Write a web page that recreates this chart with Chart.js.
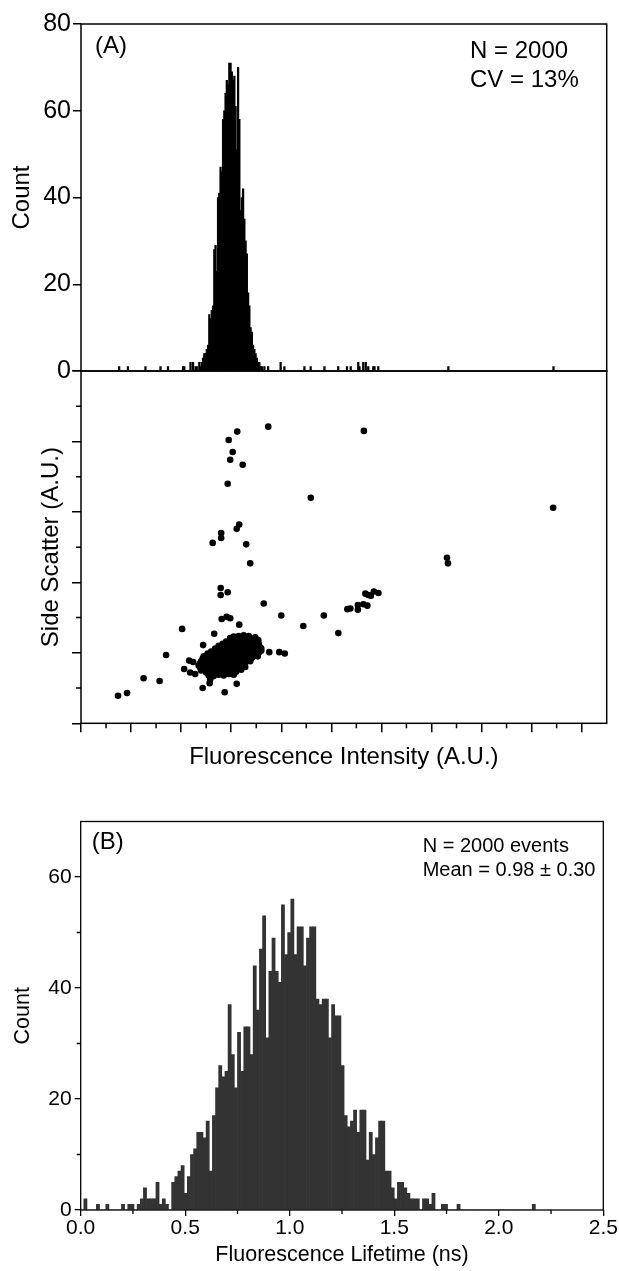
<!DOCTYPE html>
<html><head><meta charset="utf-8">
<script src="https://cdn.jsdelivr.net/npm/chart.js@4.4.1/dist/chart.umd.min.js"></script>
<style>
html,body{margin:0;padding:0;background:#fff;}
#wrap{position:relative;width:619px;height:1271px;overflow:hidden;background:#fff;}
canvas{position:absolute;left:0;}
</style></head><body>
<div id="wrap">
<canvas id="cB" style="top:790px;width:619px;height:481px" width="619" height="481"></canvas>
<canvas id="cS" style="top:360px;width:619px;height:420px" width="619" height="420"></canvas>
<canvas id="cH" style="top:0px;width:619px;height:390px" width="619" height="390"></canvas>
</div>
<script>
// ---------- Panel A: fluorescence intensity histogram ----------
const intensityBinCenters = [
  0.7625, 0.9375, 1.2875, 1.5875, 1.7375, 2.0375, 2.0625, 2.1875, 2.2375, 2.2875, 2.3125,
  2.3625, 2.3875, 2.4125, 2.4375, 2.4625, 2.4875, 2.5125, 2.5375, 2.5625, 2.5875,
  2.6125, 2.6375, 2.6625, 2.6875, 2.7125, 2.7375, 2.7625, 2.7875, 2.8125, 2.8375,
  2.8625, 2.8875, 2.9125, 2.9375, 2.9625, 2.9875, 3.0125, 3.0375, 3.0625, 3.0875,
  3.1125, 3.1375, 3.1625, 3.1875, 3.2125, 3.2375, 3.2625, 3.2875, 3.3125, 3.3375,
  3.3625, 3.3875, 3.4125, 3.4375, 3.4625, 3.4875, 3.5125, 3.5375, 3.5625, 3.5875, 3.6125,
  3.6625, 3.7375, 3.9875, 4.0625, 4.4625, 4.5875, 4.8625, 5.1375, 5.3125, 5.3875,
  5.5375, 5.5625, 5.6375, 5.6875, 5.7375, 5.8375, 5.8625, 5.9375, 7.3375, 9.4375
];
const intensityCounts = [
  1, 1, 1, 1, 1, 1, 1, 2, 2, 1, 1,
  2, 1, 2, 3, 4, 4, 5, 6, 13, 12,
  14, 15, 28, 29, 23, 40, 41, 47, 46, 58,
  60, 64, 67, 66, 71, 71, 69, 67, 68, 61,
  51, 70, 58, 37, 40, 42, 35, 30, 27, 18,
  15, 10, 9, 6, 5, 4, 3, 2, 2, 1, 1,
  1, 1, 2, 1, 1, 1, 1, 1, 1, 1,
  2, 1, 2, 2, 1, 1, 1, 1, 1, 1
];
const countTicksA = [0, 20, 40, 60, 80];

// ---------- Panel A: side scatter vs fluorescence intensity ----------
const scatterIntensity = [
  3.74, 3.12, 5.65, 2.95, 3.03, 2.98, 3.23, 2.93, 4.59, 9.43, 3.16, 3.11, 2.80, 2.80, 2.63, 3.30,
  3.38, 7.31, 7.33, 2.79, 2.79, 2.93, 3.65, 5.68, 5.74, 5.85, 5.94, 5.79, 5.53, 5.64, 5.72, 5.32,
  5.38, 5.53, 4.00, 4.85, 2.81, 2.91, 2.98, 4.44, 5.14, 2.02, 2.66, 3.16, 2.44, 1.70, 1.25, 1.57,
  0.74, 0.92, 2.43, 2.58, 2.57, 2.87, 3.11, 2.06, 2.16, 2.24, 2.18, 2.28, 3.76, 3.96, 4.07, 2.98, 3.54,
  2.55, 2.65, 2.75, 2.85, 2.95, 3.05,
  2.50, 2.60, 2.70, 2.80, 2.90, 3.00, 3.10,
  2.40, 2.50, 2.60, 2.70, 2.80, 2.90, 3.00, 3.10, 3.20,
  2.38, 2.48, 2.58, 2.68, 2.78, 2.88, 2.98, 3.08, 3.18, 3.28,
  2.35, 2.45, 2.55, 2.65, 2.75, 2.85, 2.95, 3.05, 3.15, 3.25,
  2.38, 2.48, 2.58, 2.68, 2.78, 2.88, 2.98, 3.08, 3.18, 3.28, 3.38,
  2.40, 2.50, 2.60, 2.70, 2.80, 2.90, 3.00, 3.10, 3.20, 3.30, 3.40,
  2.43, 2.53, 2.63, 2.73, 2.83, 2.93, 3.03, 3.13, 3.23, 3.33, 3.43, 3.53,
  2.45, 2.55, 2.65, 2.75, 2.85, 2.95, 3.05, 3.15, 3.25, 3.35, 3.45, 3.55,
  2.53, 2.63, 2.73, 2.83, 2.93, 3.03, 3.13, 3.23, 3.33, 3.43, 3.53, 3.60,
  2.60, 2.70, 2.80, 2.90, 3.00, 3.10, 3.20, 3.30, 3.40, 3.50, 3.60,
  2.68, 2.78, 2.88, 2.98, 3.08, 3.18, 3.28, 3.38, 3.48, 3.58,
  2.75, 2.85, 2.95, 3.05, 3.15, 3.25, 3.35, 3.45, 3.55,
  2.83, 2.93, 3.03, 3.13, 3.23, 3.33, 3.43, 3.53,
  2.90, 3.00, 3.10, 3.20, 3.30, 3.40, 3.50,
  2.98, 3.08, 3.18, 3.28, 3.38, 3.48,
  3.05, 3.15, 3.25, 3.35
];
const scatterSide = [
  4.21, 4.14, 4.15, 4.02, 3.85, 3.74, 3.67, 3.40, 3.20, 3.06, 2.82, 2.76, 2.70, 2.63, 2.56, 2.54,
  2.27, 2.35, 2.27, 1.92, 1.82, 1.86, 1.70, 1.84, 1.82, 1.87, 1.85, 1.81, 1.68, 1.69, 1.67, 1.62,
  1.63, 1.61, 1.53, 1.53, 1.48, 1.51, 1.49, 1.38, 1.28, 1.34, 1.27, 1.40, 1.11, 0.97, 0.64, 0.60,
  0.39, 0.43, 0.50, 0.62, 0.57, 0.44, 0.56, 0.77, 0.89, 0.87, 0.72, 0.70, 1.01, 1.01, 0.99, 1.21, 1.18,
  0.68, 0.67, 0.69, 0.68, 0.70, 0.69,
  0.72, 0.71, 0.72, 0.73, 0.71, 0.72, 0.73,
  0.75, 0.76, 0.74, 0.75, 0.76, 0.74, 0.75, 0.77, 0.76,
  0.79, 0.78, 0.79, 0.80, 0.78, 0.79, 0.80, 0.78, 0.79, 0.80,
  0.82, 0.81, 0.83, 0.82, 0.81, 0.83, 0.82, 0.84, 0.82, 0.83,
  0.85, 0.86, 0.85, 0.86, 0.85, 0.87, 0.86, 0.85, 0.87, 0.86, 0.88,
  0.88, 0.89, 0.90, 0.89, 0.88, 0.90, 0.89, 0.91, 0.90, 0.91, 0.92,
  0.92, 0.93, 0.92, 0.93, 0.94, 0.92, 0.93, 0.94, 0.93, 0.95, 0.94, 0.95,
  0.95, 0.96, 0.97, 0.96, 0.95, 0.97, 0.96, 0.98, 0.97, 0.98, 0.99, 1.00,
  0.99, 1.00, 0.99, 1.00, 1.01, 0.99, 1.00, 1.01, 1.00, 1.02, 1.01, 1.03,
  1.02, 1.03, 1.04, 1.03, 1.02, 1.04, 1.03, 1.05, 1.04, 1.05, 1.06,
  1.06, 1.07, 1.06, 1.07, 1.08, 1.07, 1.06, 1.08, 1.09, 1.08,
  1.10, 1.09, 1.11, 1.10, 1.11, 1.12, 1.10, 1.12, 1.13,
  1.13, 1.14, 1.13, 1.15, 1.14, 1.15, 1.16, 1.15,
  1.16, 1.17, 1.18, 1.17, 1.18, 1.19, 1.18,
  1.20, 1.21, 1.20, 1.22, 1.21, 1.22,
  1.23, 1.24, 1.25, 1.24
];
const intensityMajorTicks = [0, 1, 2, 3, 4, 5, 6, 7, 8, 9, 10];
const intensityMinorTicks = [0.5, 1.5, 2.5, 3.5, 4.5, 5.5, 6.5, 7.5, 8.5, 9.5];
const sideMajorTicks = [0, 1, 2, 3, 4, 5];
const sideMinorTicks = [0.5, 1.5, 2.5, 3.5, 4.5];

// ---------- Panel B: fluorescence lifetime histogram ----------
const lifetimeBinWidth = 0.015; // ns, bins start at 0
const lifetimeCounts = [
  0, 2, 0, 0, 0, 1, 0, 0, 1, 0,
  0, 0, 0, 1, 0, 1, 1, 0, 1, 2,
  4, 2, 2, 2, 5, 1, 2, 1, 0, 5,
  6, 7, 8, 3, 6, 10, 11, 14, 14, 13,
  16, 7, 17, 22, 26, 24, 25, 37, 28, 22,
  32, 25, 33, 33, 28, 44, 36, 47, 53, 31,
  43, 49, 43, 41, 55, 46, 50, 56, 46, 51,
  51, 44, 49, 51, 51, 38, 37, 38, 38, 31,
  37, 35, 35, 26, 17, 15, 16, 18, 14, 18,
  18, 9, 14, 10, 13, 16, 16, 7, 7, 4,
  2, 5, 5, 4, 3, 2, 2, 2, 0, 2,
  2, 1, 3, 0, 0, 1, 1, 0, 0, 0,
  1, 0, 0, 0, 0, 0, 0, 0, 0, 0,
  0, 0, 0, 0, 0, 0, 0, 0, 0, 0,
  0, 0, 0, 0, 1
];
const lifetimeTicks = [0, 0.5, 1.0, 1.5, 2.0, 2.5];
const lifetimeMinorTicks = [0.25, 0.75, 1.25, 1.75, 2.25];
const countTicksB = [0, 20, 40, 60];
const countMinorTicksB = [10, 30, 50];

const FONT = "'Liberation Sans', Arial, Helvetica, sans-serif";

// frame + minor ticks + annotation text
const framePlugin = {
  id: 'frame',
  afterDraw(chart, args, o) {
    const ctx = chart.ctx, a = chart.chartArea;
    ctx.save();
    ctx.strokeStyle = '#000';
    ctx.lineWidth = o.width || 1.5;
    ctx.strokeRect(a.left, a.top, a.right - a.left, a.bottom - a.top);
    const len = o.minorLen || 4;
    ctx.beginPath();
    (o.minorX || []).forEach(v => {
      const x = chart.scales.x.getPixelForValue(v);
      ctx.moveTo(x, a.bottom); ctx.lineTo(x, a.bottom + len);
    });
    (o.minorY || []).forEach(v => {
      const y = chart.scales.y.getPixelForValue(v);
      ctx.moveTo(a.left - len, y); ctx.lineTo(a.left, y);
    });
    ctx.stroke();
    ctx.fillStyle = '#000';
    ctx.textBaseline = 'middle';
    ctx.textAlign = 'left';
    (o.texts || []).forEach(t => {
      ctx.font = t.size + 'px ' + FONT;
      ctx.fillText(t.text, a.left + t.dx, a.top + t.dy);
    });
    ctx.restore();
  }
};

const baseOpts = {
  responsive: false, animation: false, devicePixelRatio: 1,
};

// Chart 1: histogram (A)
new Chart(document.getElementById('cH'), {
  type: 'bar',
  data: {
    datasets: [{
      data: intensityBinCenters.map((x, i) => ({ x: x, y: intensityCounts[i] })),
      backgroundColor: '#000', borderWidth: 0, barThickness: 1.6
    }]
  },
  options: Object.assign({}, baseOpts, {
    layout: { padding: { top: 24, right: 12.3, left: 0, bottom: 0 } },
    plugins: {
      legend: { display: false }, tooltip: { enabled: false },
      frame: {
        width: 1.5,
        texts: [
          { text: '(A)', dx: 14, dy: 22, size: 24 },
          { text: 'N = 2000', dx: 389, dy: 27, size: 24 },
          { text: 'CV = 13%', dx: 389, dy: 56, size: 24 }
        ]
      }
    },
    scales: {
      x: {
        type: 'linear', min: 0, max: 10.5, offset: false,
        ticks: { display: false }, grid: { display: false, offset: false }, border: { display: false },
        afterFit: s => { s.height = 19; }
      },
      y: {
        min: 0, max: 80,
        afterBuildTicks: s => { s.ticks = countTicksA.map(v => ({ value: v })); },
        ticks: { font: { family: FONT, size: 25 }, color: '#000', padding: 2 },
        grid: { drawOnChartArea: false, tickLength: 8, color: '#000', lineWidth: 1.5 },
        border: { display: false },
        title: { display: true, text: 'Count', color: '#000', font: { family: FONT, size: 24 }, padding: { top: 7.6, bottom: 0 } },
        afterFit: s => { s.width = 81; }
      }
    }
  }),
  plugins: [framePlugin]
});

// Chart 2: scatter (A)
new Chart(document.getElementById('cS'), {
  type: 'scatter',
  data: {
    datasets: [{
      data: scatterIntensity.map((x, i) => ({ x: x, y: scatterSide[i] })),
      backgroundColor: '#000', borderColor: '#000', pointRadius: 3.3, borderWidth: 0
    }]
  },
  options: Object.assign({}, baseOpts, {
    layout: { padding: { top: 11, right: 12.3, left: 0, bottom: 0 } },
    plugins: {
      legend: { display: false }, tooltip: { enabled: false },
      frame: { width: 1.5, minorLen: 5, minorX: intensityMinorTicks, minorY: sideMinorTicks }
    },
    scales: {
      x: {
        type: 'linear', min: 0, max: 10.5,
        afterBuildTicks: s => { s.ticks = intensityMajorTicks.map(v => ({ value: v })); },
        ticks: { display: false },
        grid: { drawOnChartArea: false, tickLength: 9, color: '#000', lineWidth: 1.5 },
        border: { display: false },
        title: { display: true, text: 'Fluorescence Intensity (A.U.)', color: '#000', font: { family: FONT, size: 24 }, padding: { top: 0, bottom: 8.6 } },
        afterFit: s => { s.height = 56.7; }
      },
      y: {
        type: 'linear', min: 0, max: 5,
        afterBuildTicks: s => { s.ticks = sideMajorTicks.map(v => ({ value: v })); },
        ticks: { display: false },
        grid: { drawOnChartArea: false, tickLength: 9, color: '#000', lineWidth: 1.5 },
        border: { display: false },
        title: { display: true, text: 'Side Scatter (A.U.)', color: '#000', font: { family: FONT, size: 24 }, padding: { top: 36.6, bottom: 0 } },
        afterFit: s => { s.width = 81; }
      }
    }
  }),
  plugins: [framePlugin]
});

// Chart 3: lifetime histogram (B)
new Chart(document.getElementById('cB'), {
  type: 'bar',
  data: {
    datasets: [{
      data: lifetimeCounts.map((c, k) => ({ x: (k + 0.5) * lifetimeBinWidth, y: c })),
      backgroundColor: '#333333', borderWidth: 0,
      barPercentage: 1.0, categoryPercentage: 1.0
    }]
  },
  options: Object.assign({}, baseOpts, {
    layout: { padding: { top: 31.5, right: 15.7, left: 0, bottom: 0 } },
    plugins: {
      legend: { display: false }, tooltip: { enabled: false },
      frame: {
        width: 1.3, minorLen: 4, minorX: lifetimeMinorTicks, minorY: countMinorTicksB,
        texts: [
          { text: '(B)', dx: 11, dy: 20.5, size: 24 },
          { text: 'N = 2000 events', dx: 342, dy: 25, size: 20 },
          { text: 'Mean = 0.98 \u00b1 0.30', dx: 342, dy: 49, size: 20 }
        ]
      }
    },
    scales: {
      x: {
        type: 'linear', min: 0, max: 2.5, offset: false,
        afterBuildTicks: s => { s.ticks = lifetimeTicks.map(v => ({ value: v })); },
        ticks: { font: { family: FONT, size: 21 }, color: '#000', padding: 0, maxRotation: 0, autoSkip: false, callback: v => Number(v).toFixed(1) },
        grid: { drawOnChartArea: false, tickLength: 6, color: '#000', lineWidth: 1.3, offset: false },
        border: { display: false },
        title: { display: true, text: 'Fluorescence Lifetime (ns)', color: '#000', font: { family: FONT, size: 21.5 }, padding: { top: 0, bottom: 3.1 } },
        afterFit: s => { s.height = 61; }
      },
      y: {
        min: 0, max: 70,
        afterBuildTicks: s => { s.ticks = countTicksB.map(v => ({ value: v })); },
        ticks: { font: { family: FONT, size: 21 }, color: '#000', padding: 3 },
        grid: { drawOnChartArea: false, tickLength: 6, color: '#000', lineWidth: 1.3 },
        border: { display: false },
        title: { display: true, text: 'Count', color: '#000', font: { family: FONT, size: 21.5 }, padding: { top: 10.1, bottom: 0 } },
        afterFit: s => { s.width = 80.7; }
      }
    }
  }),
  plugins: [framePlugin]
});
</script>
</body></html>
